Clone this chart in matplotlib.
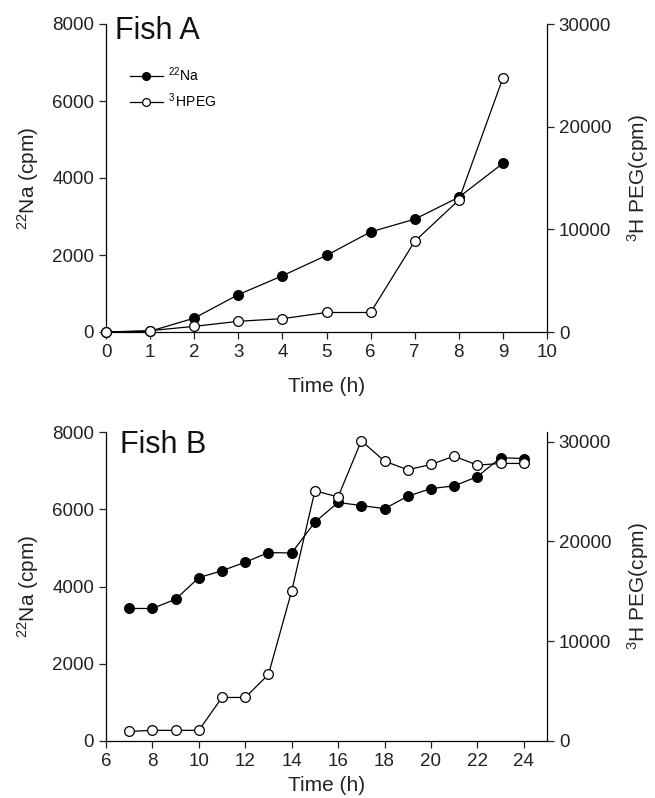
import matplotlib
matplotlib.use('Agg')
import matplotlib.pyplot as plt

plt.rcParams['font.family'] = ['Liberation Sans', 'DejaVu Sans']
plt.rcParams['mathtext.fontset'] = 'custom'
plt.rcParams['mathtext.rm'] = 'Liberation Sans'
plt.rcParams['mathtext.it'] = 'Liberation Sans:italic'
plt.rcParams['mathtext.bf'] = 'Liberation Sans:bold'

# Fish A
time_a = [0, 1, 2, 3, 4, 5, 6, 7, 8, 9]
na_a = [0, 20, 360, 970, 1460, 1990, 2600, 2930, 3500, 4380]
peg_a = [0, 130, 550, 1040, 1300, 1900, 1900, 8830, 12850, 24740]

# Fish B
time_b = [7, 8, 9, 10, 11, 12, 13, 14, 15, 16, 17, 18, 19, 20, 21, 22, 23, 24]
na_b = [3430, 3430, 3670, 4230, 4410, 4630, 4880, 4870, 5670, 6180, 6100,
        6020, 6340, 6540, 6610, 6850, 7340, 7320]
peg_b = [930, 1040, 1040, 1040, 4340, 4340, 6650, 15030, 25080, 24470, 30100,
         28060, 27190, 27730, 28560, 27660, 27830, 27830]

W, H = 655, 798
fig = plt.figure(figsize=(W / 100, H / 100), dpi=100)


def make_panel(rect, t, na, peg, xlim, xticks, ylim2, name, name_pos, xpad):
    ax = fig.add_axes(rect)
    ax2 = ax.twinx()
    ax.plot(t, na, color='black', lw=0.9, marker='o', ms=7,
            mfc='black', mec='black', mew=0.9, label='$^{22}$Na', clip_on=False, zorder=3)
    ax2.plot(t, peg, color='black', lw=0.9, marker='o', ms=7,
             mfc='white', mec='black', mew=0.9, label='$^{3}\\,$HPEG', clip_on=False, zorder=3)
    ax.set_xlim(*xlim)
    ax.set_ylim(0, 8000)
    ax2.set_ylim(*ylim2)
    ax.set_xticks(xticks)
    ax.set_yticks([0, 2000, 4000, 6000, 8000])
    ax2.set_yticks([0, 10000, 20000, 30000])
    for a in (ax, ax2):
        a.spines['top'].set_visible(False)
        a.tick_params(direction='out', length=5, width=0.9, labelsize=13.5, colors='#222222')
        for s in a.spines.values():
            s.set_linewidth(0.9)
    ax2.spines['left'].set_visible(False)
    ax2.spines['bottom'].set_visible(False)
    ax.spines['right'].set_visible(False)
    ax.set_xlabel('Time (h)', fontsize=15, color='#222222', labelpad=xpad)
    ax.set_ylabel('$^{22}$Na (cpm)', fontsize=15, color='#222222', labelpad=8)
    ax2.set_ylabel('$^{3}$H PEG(cpm)', fontsize=15, color='#222222', labelpad=10)
    ax.text(name_pos[0], name_pos[1], name, transform=ax.transAxes,
            fontsize=22, color='#111111', va='baseline', ha='left')
    return ax, ax2


axA, axA2 = make_panel([106 / W, (H - 332) / H, 441 / W, 308 / H],
                       time_a, na_a, peg_a, (0, 10), range(0, 11), (0, 30000),
                       'Fish A', (0.02, 0.951), 12)
axB, axB2 = make_panel([106 / W, (H - 740.7) / H, 441 / W, 308.4 / H],
                       time_b, na_b, peg_b, (6, 25), range(6, 25, 2), (0, 30955),
                       'Fish B', (0.032, 0.932), 5)

h1, l1 = axA.get_legend_handles_labels()
h2, l2 = axA2.get_legend_handles_labels()
axA2.legend(h1 + h2, l1 + l2, loc='upper left', bbox_to_anchor=(0.054, 0.865),
            frameon=False, fontsize=10, handlelength=2.4, handletextpad=0.35,
            markerscale=0.8, borderpad=0, borderaxespad=0, labelspacing=0.5)

fig.savefig('out.png', dpi=100)
